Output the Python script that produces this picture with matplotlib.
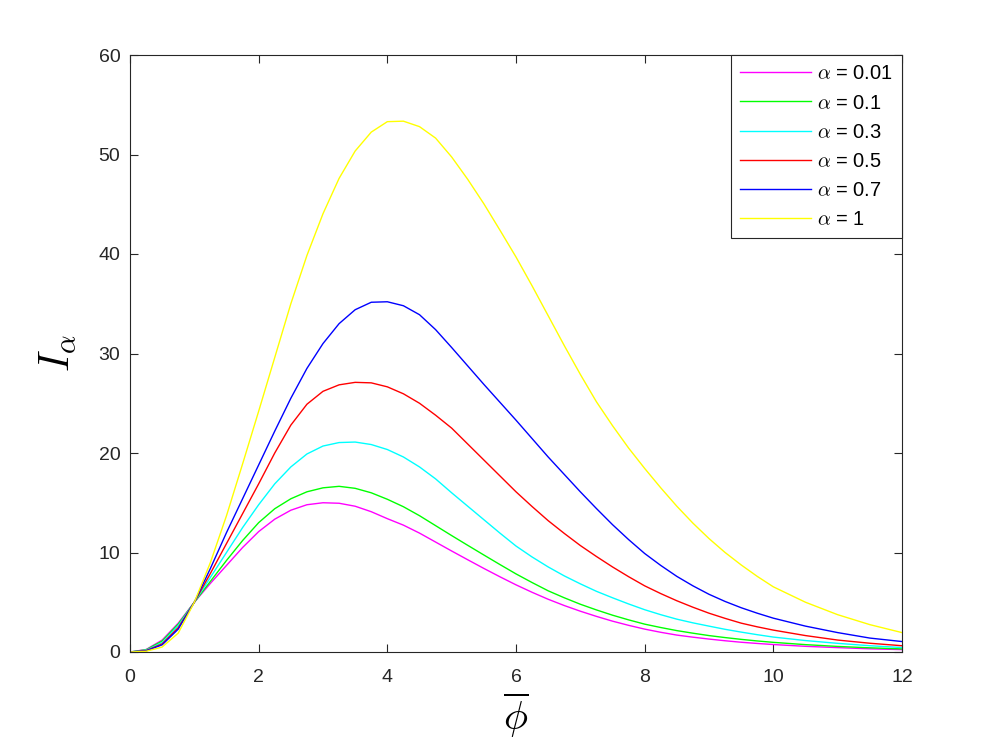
import matplotlib
matplotlib.use("Agg")
import matplotlib.pyplot as plt

plt.rcParams['font.family'] = ['Liberation Sans', 'DejaVu Sans']
plt.rcParams['mathtext.fontset'] = 'cm'

phi = [0, 0.25, 0.5, 0.75, 1, 1.25, 1.5, 1.75, 2, 2.25, 2.5, 2.75, 3, 3.25, 3.5,
       3.75, 4, 4.25, 4.5, 4.75, 5, 5.25, 5.5, 5.75, 6, 6.25, 6.5, 6.75, 7,
       7.25, 7.5, 7.75, 8, 8.25, 8.5, 8.75, 9, 9.25, 9.5, 9.75, 10,
       10.5, 11, 11.5, 12]

I_001 = [0, 0.25, 1.2, 2.9, 5.0, 6.9, 8.7, 10.5, 12.1, 13.35, 14.25, 14.8, 15.0,
         14.95, 14.65, 14.1, 13.4, 12.75, 11.95, 11.05, 10.15, 9.27, 8.4, 7.56,
         6.75, 6.0, 5.3, 4.67, 4.1, 3.58, 3.1, 2.68, 2.3, 1.98, 1.7, 1.49, 1.3,
         1.13, 0.98, 0.86, 0.75, 0.57, 0.44, 0.32, 0.24]
I_01 = [0, 0.22, 1.1, 2.8, 5.0, 7.1, 9.2, 11.2, 13.0, 14.4, 15.4, 16.1, 16.5,
        16.65, 16.45, 16.0, 15.35, 14.6, 13.7, 12.7, 11.7, 10.72, 9.75, 8.79,
        7.85, 6.98, 6.15, 5.45, 4.8, 4.23, 3.7, 3.23, 2.8, 2.46, 2.15, 1.89,
        1.65, 1.45, 1.27, 1.11, 0.97, 0.74, 0.56, 0.42, 0.31]
I_03 = [0, 0.18, 0.95, 2.65, 5.0, 7.5, 10.0, 12.5, 14.8, 16.9, 18.6, 19.9, 20.7,
        21.05, 21.1, 20.85, 20.35, 19.6, 18.6, 17.4, 16.0, 14.65, 13.3, 11.95,
        10.65, 9.55, 8.55, 7.65, 6.85, 6.1, 5.45, 4.83, 4.25, 3.75, 3.3, 2.93,
        2.6, 2.28, 2.0, 1.74, 1.5, 1.15, 0.87, 0.63, 0.45]
I_05 = [0, 0.14, 0.82, 2.45, 5.0, 7.9, 10.9, 13.9, 16.9, 20.0, 22.8, 24.9, 26.2,
        26.85, 27.1, 27.05, 26.65, 25.95, 25.0, 23.8, 22.5, 20.9, 19.3, 17.7,
        16.1, 14.62, 13.2, 11.92, 10.7, 9.6, 8.55, 7.57, 6.65, 5.87, 5.15, 4.5,
        3.9, 3.38, 2.9, 2.53, 2.2, 1.65, 1.2, 0.88, 0.63]
I_07 = [0, 0.11, 0.72, 2.3, 5.0, 8.4, 12.0, 15.4, 18.8, 22.2, 25.5, 28.5, 31.0,
        33.0, 34.4, 35.15, 35.2, 34.8, 33.9, 32.4, 30.6, 28.75, 26.9, 25.1,
        23.3, 21.45, 19.6, 17.85, 16.1, 14.42, 12.8, 11.3, 9.9, 8.7, 7.6, 6.65,
        5.8, 5.08, 4.45, 3.9, 3.4, 2.6, 1.95, 1.4, 1.05]
I_1 = [0, 0.07, 0.5, 1.9, 5.0, 9.0, 13.7, 18.9, 24.2, 29.6, 35.0, 39.85, 44.05,
       47.6, 50.35, 52.25, 53.3, 53.35, 52.8, 51.65, 49.75, 47.5, 45.05, 42.4,
       39.7, 36.8, 33.8, 30.8, 27.9, 25.15, 22.75, 20.5, 18.45, 16.5, 14.65,
       12.95, 11.4, 10.0, 8.75, 7.6, 6.55, 5.0, 3.75, 2.75, 1.95]

series = [I_001, I_01, I_03, I_05, I_07, I_1]
labels = [r'$\alpha$ = 0.01', r'$\alpha$ = 0.1', r'$\alpha$ = 0.3',
          r'$\alpha$ = 0.5', r'$\alpha$ = 0.7', r'$\alpha$ = 1']
colors = ['#ff00ff', '#00ff00', '#00ffff', '#ff0000', '#0000ff', '#ffff00']

xticks = [0, 2, 4, 6, 8, 10, 12]
yticks = [0, 10, 20, 30, 40, 50, 60]

fig = plt.figure(figsize=(9.97, 7.47), dpi=100)
ax = fig.add_axes([130/997, 1-652/747, 772/997, 597/747])

for y, c, l in zip(series, colors, labels):
    ax.plot(phi, y, color=c, lw=1.0, label=l)

ax.set_xlim(0, 12)
ax.set_ylim(0, 60)
ax.set_xticks(xticks)
ax.set_yticks(yticks)
axc = '#262626'
for s in ax.spines.values():
    s.set_color(axc)
    s.set_linewidth(0.8)
ax.tick_params(direction='in', top=True, right=True, length=6, width=0.8,
               colors=axc, labelsize=14)
ax.tick_params(axis='x', pad=12)
ax.tick_params(axis='y', pad=7)

ax.set_xlabel(r'$\overline{\phi}$', fontsize=29, labelpad=4)
ax.set_ylabel(r'$I_\alpha$', fontsize=30, labelpad=15)

leg = ax.legend(loc='upper right', bbox_to_anchor=(1, 1), borderaxespad=0,
                fontsize=14.5, handlelength=3.5, handletextpad=0.3,
                labelspacing=0.5, borderpad=0.47, fancybox=False,
                framealpha=1, edgecolor=axc)
leg.get_frame().set_linewidth(0.8)

fig.savefig('out.png', dpi=100, facecolor='white')
